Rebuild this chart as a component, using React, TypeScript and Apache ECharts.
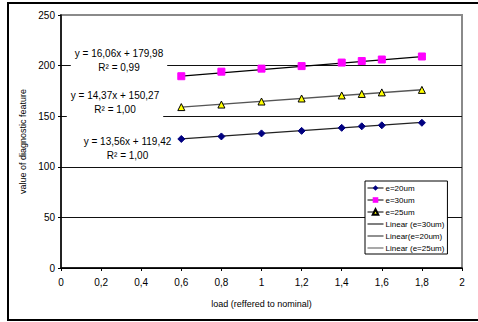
import React, { useEffect, useRef } from "react";
import * as echarts from "echarts";

const loads = [0.6, 0.8, 1.0, 1.2, 1.4, 1.5, 1.6, 1.8];
const e20 = [127.5, 130, 133, 135.5, 138.5, 140, 141, 143.5];
const e30 = [189.5, 194, 197, 199.5, 203, 204.5, 206, 209];
const e25 = [159, 161.5, 164.5, 167.5, 170.5, 172, 173.5, 176];
// trendline coefficients: [slope, intercept]
const fit30 = [16.06, 179.98];
const fit20 = [13.56, 119.42];
const fit25 = [14.37, 150.27];
const eq30 = ["y = 16,06x + 179,98", "R² = 0,99"];
const eq25 = ["y = 14,37x + 150,27", "R² = 1,00"];
const eq20 = ["y = 13,56x + 119,42", "R² = 1,00"];
const xTicks = [0, 0.2, 0.4, 0.6, 0.8, 1, 1.2, 1.4, 1.6, 1.8, 2];

const FONT = "Liberation Sans, Arial, sans-serif";

function trend(c: number[]) {
  const x0 = loads[0];
  const x1 = loads[loads.length - 1];
  return [
    [x0, c[0] * x0 + c[1]],
    [x1, c[0] * x1 + c[1]],
  ];
}

function eqText(lines: string[], x: number, y: number) {
  return {
    type: "text",
    x,
    y,
    z: 50,
    style: {
      text: lines.join("\n"),
      fontFamily: FONT,
      fontSize: 10,
      lineHeight: 14,
      fill: "#000",
      align: "center",
      verticalAlign: "middle",
      backgroundColor: "#fff",
      padding: [1, 4, 1, 4],
    },
  };
}

export default function App() {
  const ref = useRef<HTMLDivElement>(null);
  useEffect(() => {
    if (!ref.current) return;
    const chart = echarts.init(ref.current, null, { renderer: "svg" });
    const lineIcon = "path://M0,0 L0,0 Z M0,3 L16,3 L16,4 L0,4 Z M16,7 L16,7 Z";
    chart.setOption({
      animation: false,
      backgroundColor: "#fff",
      grid: {
        left: 61,
        right: 16,
        top: 15,
        bottom: 54,
        show: true,
        borderColor: "#8a8a8a",
        borderWidth: 2,
        backgroundColor: "transparent",
      },
      xAxis: {
        type: "value",
        min: 0,
        max: 2,
        interval: 0.2,
        name: "load (reffered to nominal)",
        nameLocation: "middle",
        nameGap: 31,
        nameTextStyle: { fontFamily: FONT, fontSize: 9, color: "#000" },
        axisLine: { show: true, onZero: false, lineStyle: { color: "#000", width: 1.5 } },
        axisTick: { show: true, length: 3, lineStyle: { color: "#000" } },
        axisLabel: {
          fontFamily: FONT,
          fontSize: 10,
          color: "#000",
          margin: 9,
          formatter: (v: number) => {
            const t = xTicks.find((k) => Math.abs(k - v) < 1e-6);
            return String(t !== undefined ? t : v).replace(".", ",");
          },
        },
        splitLine: { show: false },
      },
      yAxis: {
        type: "value",
        min: 0,
        max: 250,
        interval: 50,
        name: "value of diagnostic feature",
        nameLocation: "middle",
        nameGap: 31,
        nameTextStyle: { fontFamily: FONT, fontSize: 9, color: "#000" },
        axisLine: { show: true, lineStyle: { color: "#000", width: 1.5 } },
        axisTick: { show: true, length: 3, lineStyle: { color: "#000" } },
        axisLabel: { fontFamily: FONT, fontSize: 10, color: "#000", margin: 6 },
        splitLine: {
          show: true,
          lineStyle: { color: ["#000", "#111", "#111", "#111", "#111", "#8a8a8a"], width: 1 },
        },
      },
      legend: {
        orient: "vertical",
        left: 365,
        top: 181,
        width: 81,
        backgroundColor: "#fff",
        borderColor: "#000",
        borderWidth: 1,
        borderRadius: 0,
        padding: [3, 3, 2, 2],
        itemGap: 4,
        itemWidth: 16,
        itemHeight: 7,
        textStyle: { fontFamily: FONT, fontSize: 8, color: "#000", padding: [0, 0, 0, -3] },
        data: [
          { name: "e=20um", lineStyle: { color: "#000", width: 1, opacity: 1 } },
          { name: "e=30um", lineStyle: { color: "#000", width: 1, opacity: 1 } },
          { name: "e=25um", lineStyle: { color: "#000", width: 1, opacity: 1 } },
          { name: "Linear (e=30um)", icon: lineIcon, itemStyle: { color: "#000" } },
          { name: "Linear(e=20um)", icon: lineIcon, itemStyle: { color: "#222" } },
          { name: "Linear (e=25um)", icon: lineIcon, itemStyle: { color: "#555" } },
        ],
      },
      graphic: [
        {
          type: "rect",
          silent: true,
          z: 100,
          shape: { x: 8, y: 3, width: 490, height: 317 },
          style: { fill: "none", stroke: "#000", lineWidth: 2 },
        },
        eqText(eq30, 119, 60),
        eqText(eq25, 115, 102),
        eqText(eq20, 127.5, 148),
      ],
      series: [
        {
          name: "Linear (e=30um)",
          type: "line",
          data: trend(fit30),
          symbol: "none",
          lineStyle: { color: "#000", width: 1.3 },
          itemStyle: { color: "#000" },
          z: 2,
        },
        {
          name: "Linear(e=20um)",
          type: "line",
          data: trend(fit20),
          symbol: "none",
          lineStyle: { color: "#222", width: 1.3 },
          itemStyle: { color: "#222" },
          z: 2,
        },
        {
          name: "Linear (e=25um)",
          type: "line",
          data: trend(fit25),
          symbol: "none",
          lineStyle: { color: "#555", width: 1.3 },
          itemStyle: { color: "#555" },
          z: 2,
        },
        {
          name: "e=20um",
          type: "line",
          data: loads.map((x, i) => [x, e20[i]]),
          symbol: "diamond",
          symbolSize: 7,
          lineStyle: { width: 0, opacity: 0 },
          itemStyle: { color: "#000080", borderColor: "#000080" },
          z: 3,
        },
        {
          name: "e=30um",
          type: "line",
          data: loads.map((x, i) => [x, e30[i]]),
          symbol: "rect",
          symbolSize: 7,
          lineStyle: { width: 0, opacity: 0 },
          itemStyle: { color: "#ff00ff", borderColor: "#ff00ff" },
          z: 3,
        },
        {
          name: "e=25um",
          type: "line",
          data: loads.map((x, i) => [x, e25[i]]),
          symbol: "triangle",
          symbolSize: 7,
          lineStyle: { width: 0, opacity: 0 },
          itemStyle: { color: "#ffff00", borderColor: "#000", borderWidth: 1 },
          z: 3,
        },
      ],
    });
    return () => chart.dispose();
  }, []);
  return (
    <div
      ref={ref}
      style={{ position: "absolute", left: 0, top: 0, width: 478, height: 322 }}
    />
  );
}
